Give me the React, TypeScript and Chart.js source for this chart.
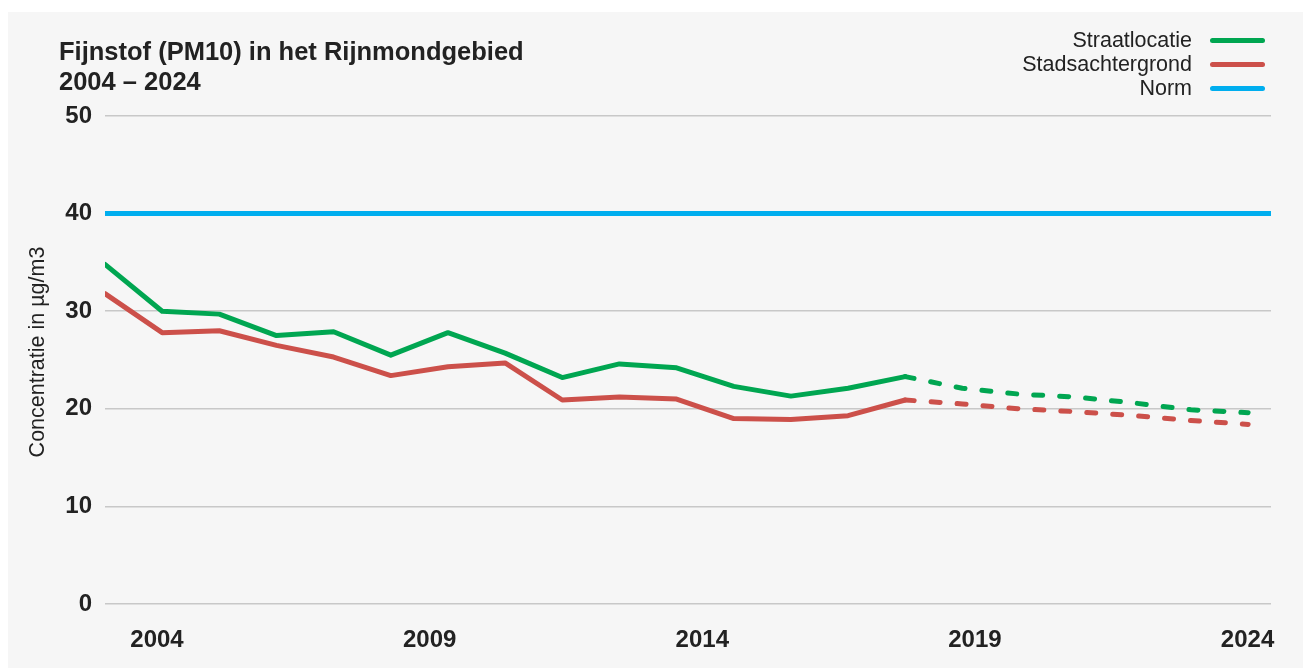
import React, { useEffect, useRef } from "react";
import { Chart, registerables } from "chart.js";

Chart.register(...registerables);

// ---- Data ----
const years = [2004, 2005, 2006, 2007, 2008, 2009, 2010, 2011, 2012, 2013, 2014, 2015, 2016, 2017, 2018, 2019, 2020, 2021, 2022, 2023, 2024];
const straatlocatie = [34.8, 30.0, 29.7, 27.5, 27.9, 25.5, 27.8, 25.7, 23.2, 24.6, 24.2, 22.3, 21.3, 22.1, 23.3, 22.1, 21.5, 21.2, 20.6, 19.9, 19.6];
const stadsachtergrond = [31.8, 27.8, 28.0, 26.5, 25.3, 23.4, 24.3, 24.7, 20.9, 21.2, 21.0, 19.0, 18.9, 19.3, 20.9, 20.5, 20.0, 19.7, 19.3, 18.8, 18.4];
const normValue = 40;
const lastMeasuredYear = 2018;
const yTickValues = [0, 10, 20, 30, 40, 50];
const xTickLabels = [2004, 2009, 2014, 2019, 2024];

const titleLines = ["Fijnstof (PM10) in het Rijnmondgebied", "2004 – 2024"];
const yAxisTitle = "Concentratie in µg/m3";
const seriesNames = ["Straatlocatie", "Stadsachtergrond", "Norm"];
const seriesColors = ["#00a651", "#cc504a", "#00aeef"];

const X_MIN = 2004;
const X_MAX = 2024.4;
const LABEL_MIN = 2003.046;
const LABEL_MAX = 2024.43;

const FONT = "'Liberation Sans', Arial, Helvetica, sans-serif";
const TEXT = "#222222";

const yTitlePlugin = {
  id: "yTitle",
  afterDraw(chart: any) {
    const { ctx, chartArea } = chart;
    ctx.save();
    ctx.translate(30, (chartArea.top + chartArea.bottom) / 2 - 8);
    ctx.rotate(-Math.PI / 2);
    ctx.fillStyle = TEXT;
    ctx.font = `normal 21.5px ${FONT}`;
    ctx.textAlign = "center";
    ctx.textBaseline = "middle";
    ctx.fillText(yAxisTitle, 0, 0);
    ctx.restore();
  },
};

export default function App() {
  const canvasRef = useRef<HTMLCanvasElement | null>(null);

  useEffect(() => {
    if (!canvasRef.current) return;
    const toPoints = (vals: number[]) => years.map((yr, i) => ({ x: yr, y: vals[i] }));
    const dashSeg = {
      borderDash: (ctx: any) => (ctx.p0.parsed.x >= lastMeasuredYear ? [9, 17] : undefined),
    };
    const chart = new Chart(canvasRef.current, {
      type: "line",
      data: {
        datasets: [
          {
            label: seriesNames[2],
            data: [
              { x: X_MIN, y: normValue },
              { x: X_MAX, y: normValue },
            ],
            borderColor: seriesColors[2],
            borderWidth: 5,
            pointRadius: 0,
            borderCapStyle: "butt",
            xAxisID: "x",
            yAxisID: "y",
          },
          {
            label: seriesNames[1],
            data: toPoints(stadsachtergrond),
            borderColor: seriesColors[1],
            borderWidth: 5,
            pointRadius: 0,
            tension: 0,
            borderCapStyle: "round",
            borderJoinStyle: "round",
            segment: dashSeg,
            xAxisID: "x",
            yAxisID: "y",
          },
          {
            label: seriesNames[0],
            data: toPoints(straatlocatie),
            borderColor: seriesColors[0],
            borderWidth: 5,
            pointRadius: 0,
            tension: 0,
            borderCapStyle: "round",
            borderJoinStyle: "round",
            segment: dashSeg,
            xAxisID: "x",
            yAxisID: "y",
          },
        ],
      },
      options: {
        animation: false,
        responsive: true,
        maintainAspectRatio: false,
        layout: { padding: { top: 104, right: 32, bottom: 0, left: 0 } },
        plugins: {
          legend: { display: false },
          tooltip: { enabled: false },
          title: { display: false },
        },
        scales: {
          x: {
            type: "linear",
            display: false,
            min: X_MIN,
            max: X_MAX,
          },
          x2: {
            type: "linear",
            position: "bottom",
            min: LABEL_MIN,
            max: LABEL_MAX,
            grid: { display: false, drawTicks: false },
            border: { display: false },
            afterBuildTicks: (axis: any) => {
              axis.ticks = xTickLabels.map((v) => ({ value: v }));
            },
            afterFit: (axis: any) => {
              axis.height = 64;
            },
            ticks: {
              autoSkip: false,
              maxRotation: 0,
              padding: 22,
              color: TEXT,
              font: { family: FONT, size: 24, weight: "bold" },
              callback: (v: any) => String(v),
            },
          },
          y: {
            type: "linear",
            position: "left",
            min: 0,
            max: 50,
            afterBuildTicks: (axis: any) => {
              axis.ticks = yTickValues.map((v) => ({ value: v }));
            },
            afterFit: (axis: any) => {
              axis.width = 97;
            },
            grid: { color: "#c8c8c8", lineWidth: 1.5, drawTicks: false },
            border: { display: false },
            ticks: {
              padding: 13,
              color: TEXT,
              font: { family: FONT, size: 24, weight: "bold" },
              callback: (v: any) => String(v),
            },
          },
        },
      },
      plugins: [yTitlePlugin],
    });
    return () => chart.destroy();
  }, []);

  return (
    <div
      style={{
        position: "relative",
        width: "100%",
        height: 656,
        marginTop: 4,
        background: "#f6f6f6",
        fontFamily: FONT,
      }}
    >
      <canvas ref={canvasRef} />
      <div
        style={{
          position: "absolute",
          left: 51,
          top: 24,
          fontSize: 25.5,
          fontWeight: "bold",
          lineHeight: "30px",
          color: TEXT,
          whiteSpace: "nowrap",
        }}
      >
        {titleLines.map((t) => (
          <div key={t}>{t}</div>
        ))}
      </div>
      <div
        style={{
          position: "absolute",
          right: 38,
          top: 16,
          color: TEXT,
          fontSize: 21.5,
        }}
      >
        {seriesNames.map((name, i) => (
          <div
            key={name}
            style={{
              display: "flex",
              justifyContent: "flex-end",
              alignItems: "center",
              height: 24,
              lineHeight: "24px",
              whiteSpace: "nowrap",
            }}
          >
            <span>{name}</span>
            <span
              style={{
                display: "inline-block",
                width: 55,
                height: 5,
                borderRadius: 3,
                marginLeft: 18,
                background: seriesColors[i],
              }}
            />
          </div>
        ))}
      </div>
    </div>
  );
}
